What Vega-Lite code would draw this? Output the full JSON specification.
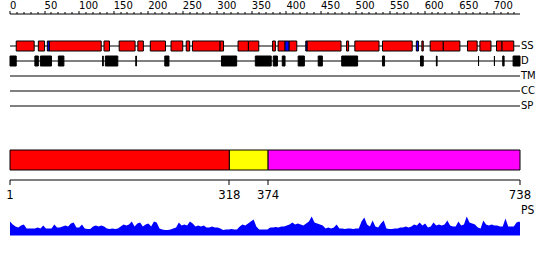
{
 "$schema": "https://vega.github.io/schema/vega-lite/v6.json",
 "padding": {"left": 6, "top": 1, "right": 0, "bottom": 0},
 "config": {"view": {"stroke": null}, "font": "DejaVu Sans", "axis": {"translate": 0, "domainColor": "#000", "tickColor": "#000", "labelColor": "#000", "labelFont": "DejaVu Sans", "grid": false}},
 "bounds": "flush",
 "spacing": 14,
 "resolve": {"scale": {"x": "independent", "y": "independent", "color": "independent"}},
 "datasets": {
  "tracks": [
   {"track": "SS", "start": 0, "end": 738},
   {"track": "D", "start": 0, "end": 738},
   {"track": "TM", "start": 0, "end": 738},
   {"track": "CC", "start": 0, "end": 738},
   {"track": "SP", "start": 0, "end": 738}
  ],
  "features": [
   {"track": "SS", "type": "helix", "start": 9, "end": 35},
   {"track": "SS", "type": "helix", "start": 41, "end": 50},
   {"track": "SS", "type": "strand", "start": 54, "end": 57},
   {"track": "SS", "type": "helix", "start": 57, "end": 132},
   {"track": "SS", "type": "helix", "start": 136, "end": 144},
   {"track": "SS", "type": "helix", "start": 158, "end": 181},
   {"track": "SS", "type": "helix", "start": 185, "end": 193},
   {"track": "SS", "type": "helix", "start": 203, "end": 225},
   {"track": "SS", "type": "helix", "start": 233, "end": 250},
   {"track": "SS", "type": "helix", "start": 255, "end": 260},
   {"track": "SS", "type": "helix", "start": 264, "end": 304},
   {"track": "SS", "type": "helix", "start": 304, "end": 309},
   {"track": "SS", "type": "helix", "start": 330, "end": 345},
   {"track": "SS", "type": "helix", "start": 345, "end": 360},
   {"track": "SS", "type": "helix", "start": 380, "end": 384},
   {"track": "SS", "type": "helix", "start": 388, "end": 398},
   {"track": "SS", "type": "strand", "start": 398, "end": 404},
   {"track": "SS", "type": "helix", "start": 404, "end": 415},
   {"track": "SS", "type": "strand", "start": 428, "end": 430},
   {"track": "SS", "type": "helix", "start": 430, "end": 479},
   {"track": "SS", "type": "helix", "start": 487, "end": 490},
   {"track": "SS", "type": "helix", "start": 499, "end": 534},
   {"track": "SS", "type": "helix", "start": 539, "end": 582},
   {"track": "SS", "type": "strand", "start": 588, "end": 591},
   {"track": "SS", "type": "helix", "start": 596, "end": 598},
   {"track": "SS", "type": "helix", "start": 608, "end": 627},
   {"track": "SS", "type": "helix", "start": 627, "end": 651},
   {"track": "SS", "type": "helix", "start": 662, "end": 676},
   {"track": "SS", "type": "helix", "start": 680, "end": 696},
   {"track": "SS", "type": "helix", "start": 704, "end": 712},
   {"track": "SS", "type": "helix", "start": 712, "end": 729},
   {"track": "D", "type": "disorder", "start": 0, "end": 9},
   {"track": "D", "type": "disorder", "start": 36, "end": 41},
   {"track": "D", "type": "disorder", "start": 44, "end": 60},
   {"track": "D", "type": "disorder", "start": 70, "end": 78},
   {"track": "D", "type": "disorder", "start": 134, "end": 135},
   {"track": "D", "type": "disorder", "start": 138, "end": 156},
   {"track": "D", "type": "disorder", "start": 182, "end": 183},
   {"track": "D", "type": "disorder", "start": 224, "end": 230},
   {"track": "D", "type": "disorder", "start": 306, "end": 328},
   {"track": "D", "type": "disorder", "start": 355, "end": 378},
   {"track": "D", "type": "disorder", "start": 381, "end": 387},
   {"track": "D", "type": "disorder", "start": 394, "end": 398},
   {"track": "D", "type": "disorder", "start": 417, "end": 426},
   {"track": "D", "type": "disorder", "start": 446, "end": 452},
   {"track": "D", "type": "disorder", "start": 480, "end": 503},
   {"track": "D", "type": "disorder", "start": 539, "end": 542},
   {"track": "D", "type": "disorder", "start": 594, "end": 598},
   {"track": "D", "type": "disorder", "start": 617, "end": 618},
   {"track": "D", "type": "disorder", "start": 678, "end": 678},
   {"track": "D", "type": "disorder", "start": 701, "end": 701},
   {"track": "D", "type": "disorder", "start": 713, "end": 715},
   {"track": "D", "type": "disorder", "start": 728, "end": 738}
  ],
  "domains": [
   {"segment": "N", "start": 1, "end": 318},
   {"segment": "M", "start": 318, "end": 374},
   {"segment": "C", "start": 374, "end": 738}
  ],
  "ps": [
   {"pos": 1, "ps": 14}, {"pos": 5, "ps": 11}, {"pos": 9, "ps": 9}, {"pos": 13, "ps": 8}, {"pos": 17, "ps": 10}, {"pos": 21, "ps": 11}, {"pos": 25, "ps": 7}, {"pos": 29, "ps": 7}, {"pos": 33, "ps": 7}, {"pos": 37, "ps": 7},
   {"pos": 41, "ps": 8}, {"pos": 45, "ps": 7}, {"pos": 49, "ps": 10}, {"pos": 53, "ps": 7}, {"pos": 57, "ps": 7}, {"pos": 61, "ps": 7}, {"pos": 65, "ps": 11}, {"pos": 69, "ps": 8}, {"pos": 73, "ps": 8}, {"pos": 77, "ps": 9},
   {"pos": 81, "ps": 10}, {"pos": 85, "ps": 9}, {"pos": 89, "ps": 12}, {"pos": 93, "ps": 13}, {"pos": 97, "ps": 8}, {"pos": 101, "ps": 8}, {"pos": 105, "ps": 11}, {"pos": 109, "ps": 7}, {"pos": 113, "ps": 6.5}, {"pos": 117, "ps": 6.5},
   {"pos": 121, "ps": 9}, {"pos": 125, "ps": 10}, {"pos": 129, "ps": 9}, {"pos": 133, "ps": 10}, {"pos": 137, "ps": 9}, {"pos": 141, "ps": 7}, {"pos": 145, "ps": 6.5}, {"pos": 149, "ps": 7}, {"pos": 153, "ps": 6.5}, {"pos": 157, "ps": 7},
   {"pos": 161, "ps": 9}, {"pos": 165, "ps": 11}, {"pos": 169, "ps": 10}, {"pos": 173, "ps": 11}, {"pos": 177, "ps": 14}, {"pos": 181, "ps": 9}, {"pos": 185, "ps": 12}, {"pos": 189, "ps": 13}, {"pos": 193, "ps": 9}, {"pos": 197, "ps": 11},
   {"pos": 201, "ps": 12}, {"pos": 205, "ps": 9}, {"pos": 209, "ps": 14}, {"pos": 213, "ps": 13}, {"pos": 217, "ps": 7}, {"pos": 221, "ps": 6}, {"pos": 225, "ps": 5.5}, {"pos": 229, "ps": 5.5}, {"pos": 233, "ps": 6}, {"pos": 237, "ps": 7},
   {"pos": 241, "ps": 8}, {"pos": 245, "ps": 13}, {"pos": 249, "ps": 10}, {"pos": 253, "ps": 11}, {"pos": 257, "ps": 10}, {"pos": 261, "ps": 14}, {"pos": 265, "ps": 12}, {"pos": 269, "ps": 9}, {"pos": 273, "ps": 10}, {"pos": 277, "ps": 9},
   {"pos": 281, "ps": 10}, {"pos": 285, "ps": 8}, {"pos": 289, "ps": 8}, {"pos": 293, "ps": 9}, {"pos": 297, "ps": 8}, {"pos": 301, "ps": 8}, {"pos": 305, "ps": 7}, {"pos": 309, "ps": 5.5}, {"pos": 313, "ps": 6}, {"pos": 317, "ps": 6},
   {"pos": 321, "ps": 6.5}, {"pos": 325, "ps": 6}, {"pos": 329, "ps": 6}, {"pos": 333, "ps": 9}, {"pos": 337, "ps": 11}, {"pos": 341, "ps": 10}, {"pos": 345, "ps": 12}, {"pos": 349, "ps": 14}, {"pos": 353, "ps": 16}, {"pos": 357, "ps": 9},
   {"pos": 361, "ps": 6}, {"pos": 365, "ps": 6}, {"pos": 369, "ps": 6}, {"pos": 373, "ps": 6},
   {"pos": 377, "ps": 8}, {"pos": 381, "ps": 8}, {"pos": 385, "ps": 8.5}, {"pos": 389, "ps": 8}, {"pos": 393, "ps": 9}, {"pos": 397, "ps": 9}, {"pos": 401, "ps": 10}, {"pos": 405, "ps": 11}, {"pos": 409, "ps": 13}, {"pos": 413, "ps": 11},
   {"pos": 417, "ps": 12}, {"pos": 421, "ps": 11}, {"pos": 425, "ps": 10}, {"pos": 429, "ps": 12}, {"pos": 433, "ps": 14}, {"pos": 437, "ps": 19}, {"pos": 441, "ps": 13}, {"pos": 445, "ps": 12}, {"pos": 449, "ps": 11}, {"pos": 453, "ps": 10},
   {"pos": 457, "ps": 7}, {"pos": 461, "ps": 8}, {"pos": 465, "ps": 7}, {"pos": 469, "ps": 8}, {"pos": 473, "ps": 11}, {"pos": 477, "ps": 7}, {"pos": 481, "ps": 7}, {"pos": 485, "ps": 6.5}, {"pos": 489, "ps": 7}, {"pos": 493, "ps": 7},
   {"pos": 497, "ps": 6.5}, {"pos": 501, "ps": 7}, {"pos": 505, "ps": 7}, {"pos": 509, "ps": 14}, {"pos": 513, "ps": 18}, {"pos": 517, "ps": 11}, {"pos": 521, "ps": 9}, {"pos": 525, "ps": 15}, {"pos": 529, "ps": 9}, {"pos": 533, "ps": 8},
   {"pos": 537, "ps": 12}, {"pos": 541, "ps": 15}, {"pos": 545, "ps": 7}, {"pos": 549, "ps": 6.5}, {"pos": 553, "ps": 6.5}, {"pos": 557, "ps": 7}, {"pos": 561, "ps": 7}, {"pos": 565, "ps": 8}, {"pos": 569, "ps": 8}, {"pos": 573, "ps": 9},
   {"pos": 577, "ps": 8}, {"pos": 581, "ps": 9}, {"pos": 585, "ps": 11}, {"pos": 589, "ps": 10}, {"pos": 593, "ps": 13}, {"pos": 597, "ps": 10}, {"pos": 601, "ps": 12}, {"pos": 605, "ps": 8}, {"pos": 609, "ps": 9}, {"pos": 613, "ps": 13},
   {"pos": 617, "ps": 10}, {"pos": 621, "ps": 11}, {"pos": 625, "ps": 10}, {"pos": 629, "ps": 11}, {"pos": 633, "ps": 15}, {"pos": 637, "ps": 10}, {"pos": 641, "ps": 9}, {"pos": 645, "ps": 9}, {"pos": 649, "ps": 14}, {"pos": 653, "ps": 10},
   {"pos": 657, "ps": 11}, {"pos": 661, "ps": 19}, {"pos": 665, "ps": 13}, {"pos": 669, "ps": 12}, {"pos": 673, "ps": 11}, {"pos": 677, "ps": 8}, {"pos": 681, "ps": 7}, {"pos": 685, "ps": 15}, {"pos": 689, "ps": 11}, {"pos": 693, "ps": 10},
   {"pos": 697, "ps": 11}, {"pos": 701, "ps": 10}, {"pos": 705, "ps": 10}, {"pos": 709, "ps": 9}, {"pos": 713, "ps": 9}, {"pos": 717, "ps": 17}, {"pos": 721, "ps": 9}, {"pos": 725, "ps": 9}, {"pos": 729, "ps": 9}, {"pos": 733, "ps": 13},
   {"pos": 737, "ps": 14}, {"pos": 738, "ps": 13}
  ]
 },
 "vconcat": [
  {
   "width": 510, "height": 122,
   "encoding": {
    "x": {"type": "quantitative", "scale": {"domain": [0, 738], "nice": false, "zero": false},
     "axis": {"orient": "top", "title": null,
      "values": [0,10,20,30,40,50,60,70,80,90,100,110,120,130,140,150,160,170,180,190,200,210,220,230,240,250,260,270,280,290,300,310,320,330,340,350,360,370,380,390,400,410,420,430,440,450,460,470,480,490,500,510,520,530,540,550,560,570,580,590,600,610,620,630,640,650,660,670,680,690,700,710,720,730],
      "labelExpr": "datum.value % 50 === 0 ? datum.label : ''",
      "tickSize": {"condition": {"test": "datum.value % 50 === 0", "value": 3}, "value": 2},
      "labelAlign": "left", "labelBaseline": "alphabetic", "labelPadding": 2, "labelFontSize": 10,
      "labelFlush": false, "labelOverlap": false, "labelBound": false}},
    "y": {"field": "track", "type": "nominal", "scale": {"type": "point", "domain": ["SS", "D", "TM", "CC", "SP"], "range": [32, 92], "padding": 0}, "axis": null}
   },
   "layer": [
    {
     "data": {"name": "tracks"},
     "mark": {"type": "rule", "color": "#000", "strokeWidth": 1},
     "encoding": {
      "x": {"field": "start"},
      "x2": {"field": "end"}
     }
    },
    {
     "data": {"name": "features"},
     "mark": {"type": "bar", "height": 10, "stroke": "#000", "strokeWidth": 1},
     "encoding": {
      "x": {"field": "start"},
      "x2": {"field": "end"},
      "color": {"field": "type", "type": "nominal", "scale": {"domain": ["helix", "strand", "disorder"], "range": ["#ff0000", "#0000ff", "#000000"]}, "legend": null}
     }
    },
    {
     "data": {"name": "tracks"},
     "mark": {"type": "text", "align": "left", "baseline": "middle", "dx": 1, "fontSize": 10, "color": "#000"},
     "encoding": {
      "x": {"field": "end"},
      "text": {"field": "track"}
     }
    }
   ]
  },
  {
   "width": 510, "height": 20,
   "data": {"name": "domains"},
   "mark": {"type": "bar", "stroke": "#000", "strokeWidth": 1},
   "encoding": {
    "x": {"field": "start", "type": "quantitative", "scale": {"domain": [1, 738], "nice": false, "zero": false},
     "axis": {"orient": "bottom", "title": null, "values": [1, 318, 374, 738], "offset": 10, "tickSize": 5,
      "labelFontSize": 13, "labelFont": "DejaVu Sans Condensed, DejaVu Sans", "labelPadding": 3.5, "labelAlign": "center", "labelBaseline": "top",
      "labelFlush": false, "labelOverlap": false, "labelBound": false}},
    "x2": {"field": "end"},
    "y": {"datum": "bar", "type": "nominal", "scale": {"paddingInner": 0, "paddingOuter": 0}, "axis": null},
    "color": {"field": "segment", "type": "nominal", "scale": {"domain": ["N", "M", "C"], "range": ["#ff0000", "#ffff00", "#ff00ff"]}, "legend": null}
   }
  },
  {
   "width": 510, "height": 51.5,
   "layer": [
    {
     "data": {"name": "ps"},
     "mark": {"type": "area", "color": "#0000ff", "interpolate": "linear"},
     "encoding": {
      "x": {"field": "pos", "type": "quantitative", "scale": {"domain": [1, 738], "nice": false, "zero": false}, "axis": null},
      "y": {"field": "ps", "type": "quantitative", "scale": {"domain": [0, 51.5], "nice": false}, "axis": null}
     }
    },
    {
     "data": {"values": [{"label": "PS", "pos": 738}]},
     "mark": {"type": "text", "align": "left", "baseline": "alphabetic", "dx": 1, "fontSize": 12, "font": "DejaVu Sans Condensed, DejaVu Sans", "color": "#000"},
     "encoding": {
      "x": {"field": "pos", "type": "quantitative", "axis": null},
      "y": {"datum": 22, "type": "quantitative"},
      "text": {"field": "label"}
     }
    }
   ]
  }
 ]
}
